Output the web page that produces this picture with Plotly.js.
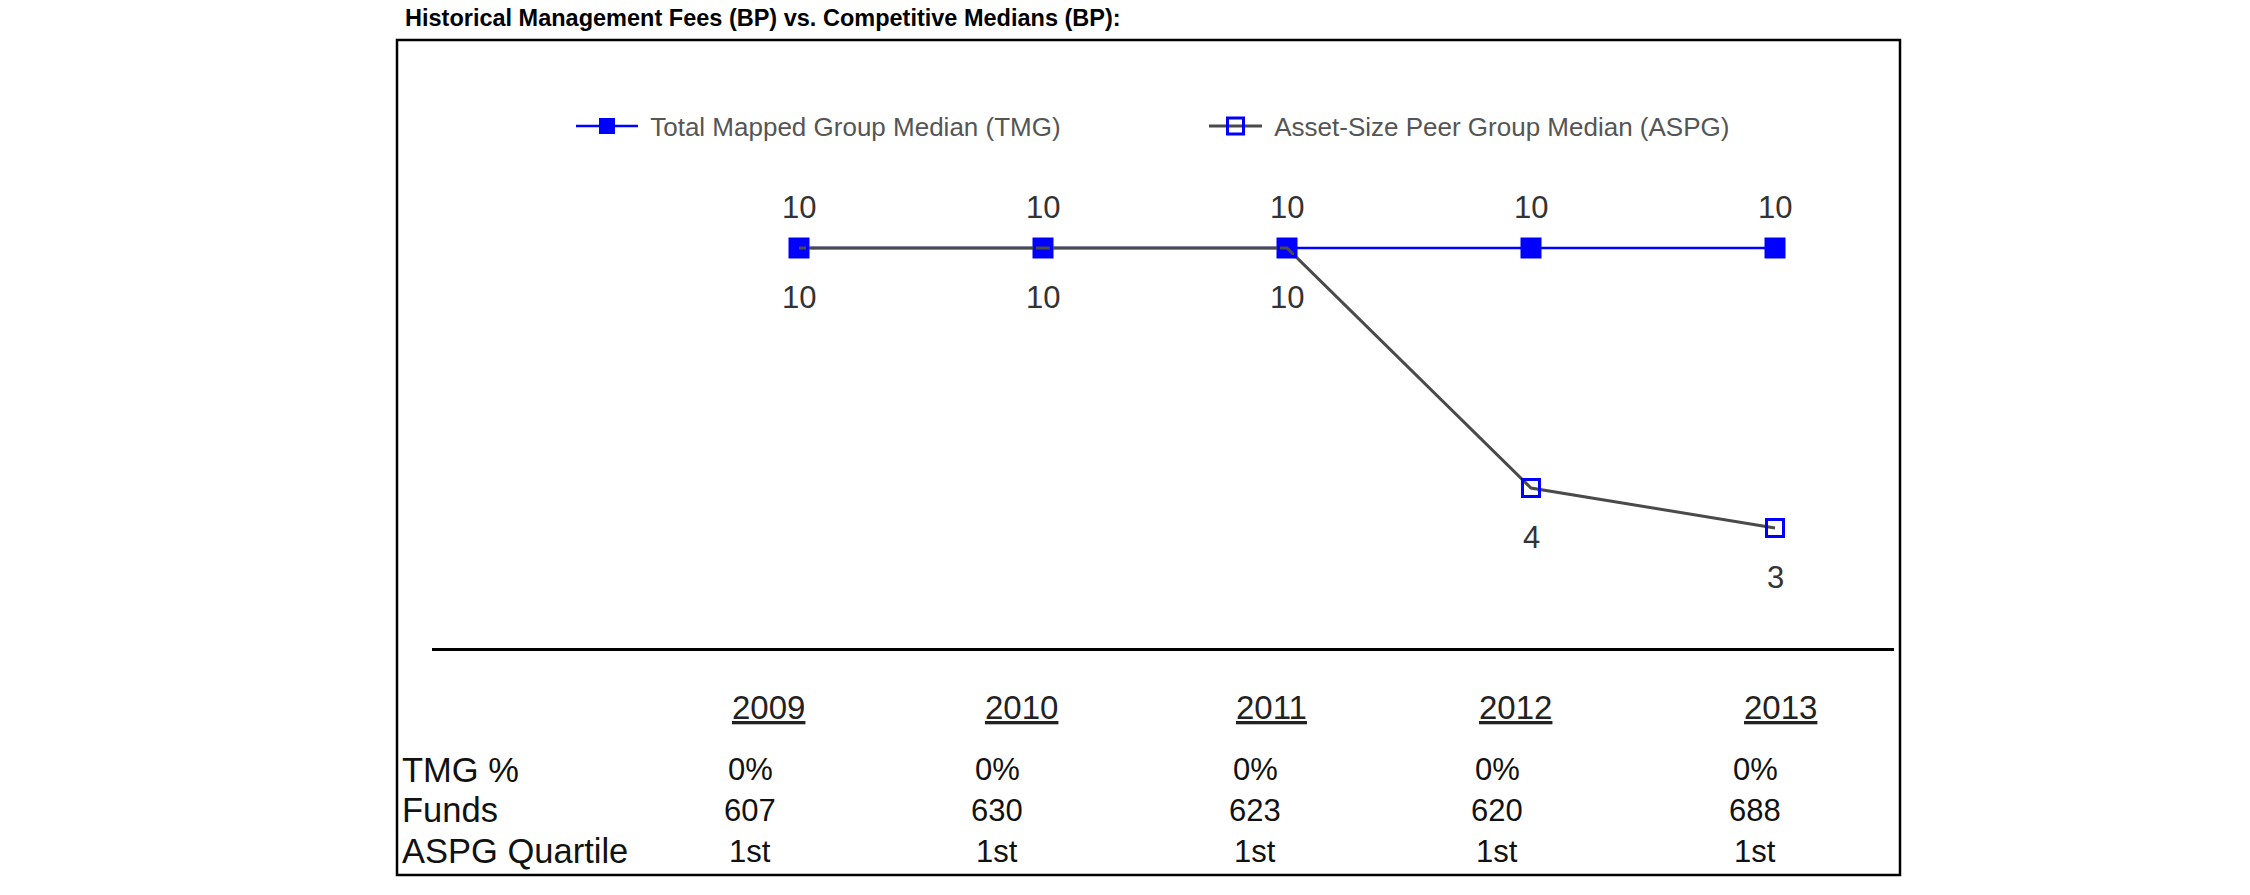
<!DOCTYPE html>
<html>
<head>
<meta charset="utf-8">
<script src="https://cdn.plot.ly/plotly-3.0.1.min.js"></script>
<style>
  html, body { margin: 0; padding: 0; background: #ffffff; }
  #chart { width: 2250px; height: 895px; }
</style>
</head>
<body>
<div id="chart"></div>
<script>
// ---------------- DATA ----------------
const years = ['2009', '2010', '2011', '2012', '2013'];
const tmgMedian = [10, 10, 10, 10, 10];
const aspgMedian = [10, 10, 10, 4, 3];
const tmgPct = ['0%', '0%', '0%', '0%', '0%'];
const funds = [607, 630, 623, 620, 688];
const aspgQuartile = ['1st', '1st', '1st', '1st', '1st'];
const rowLabels = ['TMG %', 'Funds', 'ASPG Quartile'];
const seriesNames = ['Total Mapped Group Median (TMG)', 'Asset-Size Peer Group Median (ASPG)'];
const chartTitle = 'Historical Management Fees (BP) vs. Competitive Medians (BP):';

// ---------------- LAYOUT HELPERS (pixel geometry) ----------------
const W = 2250, H = 895;
const M = { l: 432, r: 356, t: 60, b: 247 };
const PW = W - M.l - M.r, PH = H - M.t - M.b;
const px = (x) => (x - M.l) / PW;          // page px -> paper x
const py = (y) => (H - M.b - y) / PH;      // page px -> paper y

const FONT = 'Arial, "Liberation Sans", Helvetica, sans-serif';
const yearCenters = [768, 1021, 1271, 1515, 1780];
const valueCenters = [750, 997, 1255, 1497, 1755];
const yearRowY = 707;
const tableRowY = [770, 810, 851];

// ---------------- TRACES ----------------
const traces = [
  {
    type: 'scatter', mode: 'lines+markers', name: '\u00A0' + seriesNames[0],
    x: years, y: tmgMedian,
    line: { color: 'rgb(0,0,255)', width: 2.5 },
    marker: { symbol: 'square', size: 21, color: 'rgb(0,0,255)' },
    legend: 'legend', cliponaxis: false, hoverinfo: 'skip'
  },
  {
    type: 'scatter', mode: 'lines+markers', name: '\u00A0' + seriesNames[1],
    x: years, y: aspgMedian,
    line: { color: '#4a4a4a', width: 3 },
    marker: { symbol: 'square-open', size: 17, color: 'rgb(0,0,255)', line: { color: 'rgb(0,0,255)', width: 3 } },
    legend: 'legend2', cliponaxis: false, hoverinfo: 'skip'
  }
];

// ---------------- ANNOTATIONS ----------------
const annotations = [];
years.forEach((yr, i) => {
  // data labels, positioned through the category axis (index i) and value axis
  annotations.push({ x: i, y: tmgMedian[i], xref: 'x', yref: 'y', text: String(tmgMedian[i]),
    showarrow: false, yshift: 41, font: { family: FONT, size: 31, color: '#333' } });
  annotations.push({ x: i, y: aspgMedian[i], xref: 'x', yref: 'y', text: String(aspgMedian[i]),
    showarrow: false, yshift: -49, font: { family: FONT, size: 31, color: '#333' } });
  // table
  annotations.push({ x: px(yearCenters[i]), y: py(yearRowY), xref: 'paper', yref: 'paper',
    text: '<u>' + yr + '</u>', showarrow: false, xanchor: 'center', yanchor: 'middle',
    font: { family: FONT, size: 33, color: '#222' } });
  const cols = [tmgPct[i], String(funds[i]), aspgQuartile[i]];
  cols.forEach((v, r) => {
    annotations.push({ x: px(valueCenters[i]), y: py(tableRowY[r]), xref: 'paper', yref: 'paper',
      text: v, showarrow: false, xanchor: 'center', yanchor: 'middle',
      font: { family: FONT, size: 31, color: '#111' } });
  });
});
rowLabels.forEach((lab, r) => {
  annotations.push({ x: px(400), y: py(tableRowY[r]), xref: 'paper', yref: 'paper',
    text: lab, showarrow: false, xanchor: 'left', yanchor: 'middle',
    font: { family: FONT, size: 34.5, color: '#111' } });
});

// ---------------- SHAPES ----------------
const shapes = [
  { type: 'rect', xref: 'paper', yref: 'paper', x0: px(397), x1: px(1900), y0: py(875), y1: py(40),
    line: { color: '#000', width: 2.5 }, fillcolor: 'rgba(0,0,0,0)', layer: 'below' }
];

// ---------------- LAYOUT ----------------
const layout = {
  width: W, height: H,
  margin: M,
  paper_bgcolor: '#fff', plot_bgcolor: '#fff',
  font: { family: FONT, color: '#222' },
  title: {
    text: '<b>' + chartTitle + '</b>',
    xref: 'container', yref: 'container', x: 405 / W, y: 1 - 18 / H,
    xanchor: 'left', yanchor: 'middle',
    font: { family: FONT, size: 23.5, color: '#000' }
  },
  xaxis: {
    type: 'category', range: [-(799 - M.l) / 244, -(799 - M.l) / 244 + PW / 244],
    showline: true, linecolor: '#000', linewidth: 3,
    showgrid: false, zeroline: false, ticks: '', showticklabels: false, fixedrange: true
  },
  yaxis: {
    range: [0, PH / 40], visible: false, showgrid: false, zeroline: false, fixedrange: true
  },
  legend: {
    x: px(571), y: py(126), xanchor: 'left', yanchor: 'middle',
    orientation: 'h', itemwidth: 62, bgcolor: 'rgba(0,0,0,0)',
    font: { family: FONT, size: 26, color: '#555' }
  },
  legend2: {
    x: px(1204), y: py(126), xanchor: 'left', yanchor: 'middle',
    orientation: 'h', itemwidth: 53, bgcolor: 'rgba(0,0,0,0)',
    font: { family: FONT, size: 26, color: '#555' }
  },
  showlegend: true,
  annotations: annotations,
  shapes: shapes
};

Plotly.newPlot('chart', traces, layout, { displayModeBar: false, staticPlot: true });
</script>
</body>
</html>
